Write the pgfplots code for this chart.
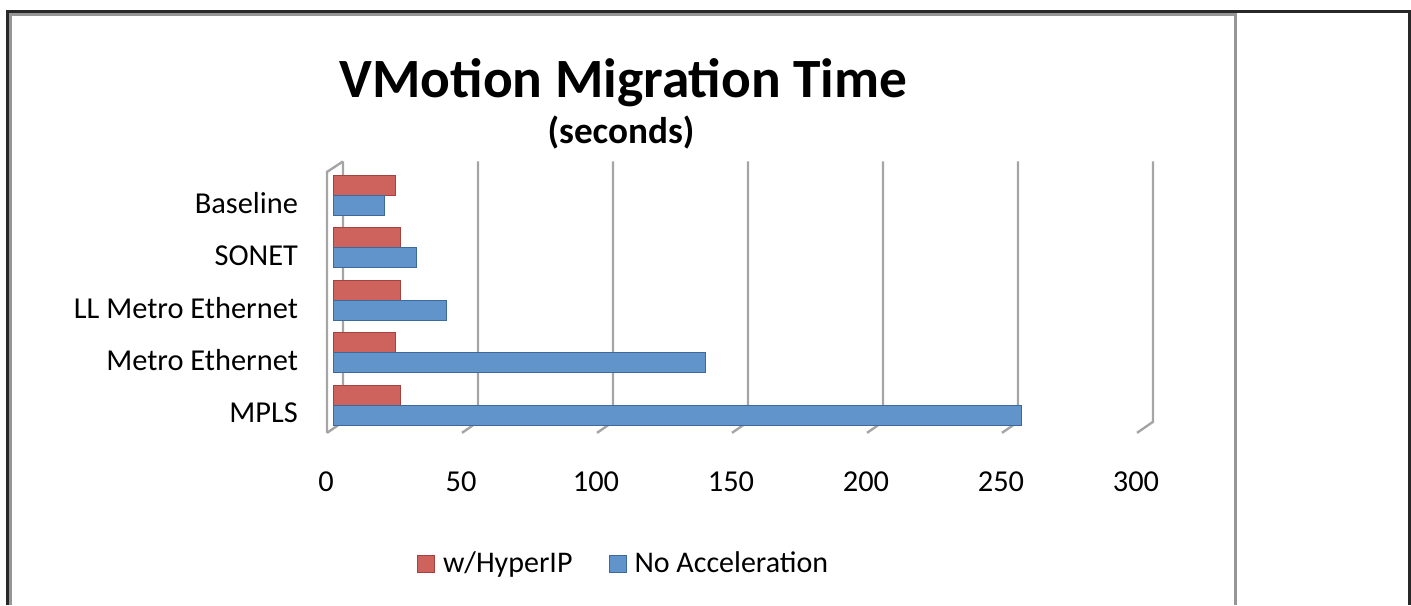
\documentclass[border=0pt]{standalone}
\usepackage{pgfplots}
\pgfplotsset{compat=1.18}
\usepackage{fontspec}
\setmainfont{Carlito}
\definecolor{hred}{RGB}{206,99,94}
\definecolor{hredD}{RGB}{165,65,62}
\definecolor{hblue}{RGB}{96,148,202}
\definecolor{hblueD}{RGB}{62,105,155}
\definecolor{framedark}{RGB}{40,40,40}
\definecolor{framegray}{RGB}{150,150,150}
\definecolor{gridc}{RGB}{165,165,165}
\pgfplotsset{sqleg/.style={legend image code/.code={\fill[##1] (0pt,-4.25pt) rectangle (8.5pt,4.25pt);}}}
\begin{document}
\begin{tikzpicture}
\begin{scope}[x=0.5pt,y=-0.5pt]
\useasboundingbox (0,0) rectangle (1411,605);
\draw[line width=1.5pt, draw=framegray] (10.5,605) -- (10.5,14.5) -- (1235.5,14.5) -- (1235.5,605);
\draw[line width=1.5pt, draw=framedark] (7.5,605) -- (7.5,11.5) -- (1409.5,11.5) -- (1409.5,605);
\node[font=\fontsize{27.7}{32}\selectfont\bfseries, anchor=base] at (623.5,97) {VMotion Migration Time};
\node[font=\fontsize{18.6}{22}\selectfont\bfseries, anchor=base] at (621,143) {(seconds)};
\end{scope}
\begin{axis}[
  at={(166.5pt,-215pt)}, anchor=south west,
  scale only axis, width=405pt, height=135pt,
  xmin=0, xmax=300, ymin=-0.667, ymax=4.476, y dir=reverse,
  xbar=0pt, bar width=10pt,
  xtick={0,50,100,150,200,250,300},
  ytick={0,1,2,3,4},
  yticklabels={Baseline,SONET,LL Metro Ethernet,Metro Ethernet,MPLS},
  axis line style={draw=none}, major tick length=0pt,
  tick label style={font=\fontsize{15.2}{18}\selectfont},
  xticklabel style={anchor=center, yshift=-26pt, xshift=-3.5pt},
  yticklabel style={anchor=east, xshift=-14pt, yshift=-4pt},
  /pgf/number format/assume math mode=true,
  clip=false,
  legend style={at={(0.36,-0.496)}, anchor=center, draw=none,
    font=\fontsize{15}{18}\selectfont,
    /tikz/every odd column/.append style={column sep=2pt},
    /tikz/every even column/.append style={column sep=16pt}},
  legend columns=2,
]
\pgfplotsinvokeforeach{0,50,100,150,200,250,300}{
  \draw[gridc, line width=1.2pt] ([xshift=5pt]axis cs:#1,-0.64) -- ([xshift=5pt]axis cs:#1,4.32) -- ([xshift=-3pt]axis cs:#1,4.53);
}
\draw[gridc, line width=1.2pt] ([xshift=5pt]axis cs:0,-0.64) -- ([xshift=-3pt]axis cs:0,-0.44) -- ([xshift=-3pt]axis cs:0,4.53);
\addplot[fill=hred, draw=hredD, line width=0.5pt, bar shift=5pt, sqleg]
  coordinates {(23,0) (25,1) (25,2) (23,3) (25,4)};
\addplot[fill=hblue, draw=hblueD, line width=0.5pt, bar shift=-5pt, sqleg]
  coordinates {(19,0) (31,1) (42,2) (138,3) (255,4)};
\legend{w/HyperIP, No Acceleration}
\end{axis}
\end{tikzpicture}
\end{document}
